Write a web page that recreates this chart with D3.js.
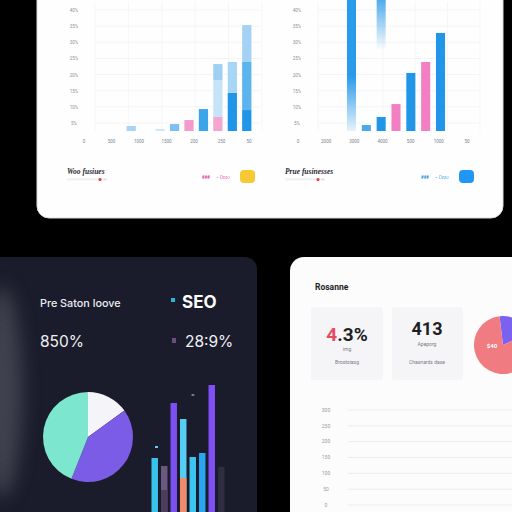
<!DOCTYPE html>
<html><head><meta charset="utf-8">
<script src="https://cdn.jsdelivr.net/npm/d3@7"></script>
<style>html,body{margin:0;padding:0;background:#000;}svg{display:block}</style>
</head><body>
<script>
// ---------- DATA ----------
// top-left chart (stacked bars, 9 slots)
const tlSlots = ["s0","s1","s2","s3","s4","s5","s6","s7","s8"];
const tlBase  = [31, 0, 12, 43, 68, 136, 87, 236, 130];
const tlMid   = [0, 0, 0, 0, 0, 0, 229, 192, 298];
const tlTop   = [0, 0, 0, 0, 0, 0, 99, 0, 229];
const tlXLabels = ["0","500","1000","1500","200","250","50"];
// top-right chart (7 slots)
const trSlots = ["r0","r1","r2","r3","r4","r5","r6"];
const trValues = [850, 37, 87, 167, 360, 428, 608];
const trGhostLow  = [0, 0, 500, 0, 0, 0, 0];
const trGhostHigh = [0, 0, 850, 0, 0, 0, 0];
const trXLabels = ["0","2000","3000","4000","500","1000","50"];
// shared y ticks of the top charts
const topYTicks = [50,150,250,350,450,550,650,750];
const topYLabels = ["5%","10%","15%","20%","25%","30%","35%","40%"];
// dark card
const darkPie = [15, 41, 44];           // white, purple, teal
const seoSlots = ["b0","b1","b2","b3","b4","b5","b6","b7"];
const seoValues = [54, 46, 109, 93, 55, 59, 127, 45];
const seoLower  = [0, 22, 0, 34, 0, 0, 0, 0];
// white card
const rightPie = [20, 80];
const lineTicks = [300,250,200,150,100,50,0];
const lineLabels = ["300","250","200","150","100","50","0"];

// ---------- STYLES ----------
const tlBaseCol = ["#a9d3f4","#ffffff","#cfe6f9","#7cbff0","#f59bcb","#3ba4ea","#f5a6d0","#2196e8","#2196e8"];
const tlMidCol  = ["#fff","#fff","#fff","#fff","#fff","#fff","#c6e3f8","#a7d5f6","#5db3ee"];
const tlTopCol  = ["#fff","#fff","#fff","#fff","#fff","#fff","#9fcff3","#fff","#a3d2f5"];
const trCol = ["url(#fadeDown)","#4aa8ec","#2196e8","#f27fc2","#2196e8","#f27fc2","#2196e8"];
const seoCol = ["#38c3ee","#6a5a82","#7b4ff0","#56cdf2","#3cc5f0","#2aa5ef","#8050f5","#2e2d42"];
const seoLowCol = ["#000","#4a3e5c","#000","#f28b6b","#000","#000","#000","#000"];

const W = 512, H = 512;
const svg = d3.select("body").append("svg").attr("width",W).attr("height",H);
const defs = svg.append("defs");
const g1 = defs.append("linearGradient").attr("id","fadeDown").attr("x1",0).attr("x2",0).attr("y1",0).attr("y2",1);
g1.append("stop").attr("offset","0%").attr("stop-color","#2a9be9");
g1.append("stop").attr("offset","60%").attr("stop-color","#2a9be9");
g1.append("stop").attr("offset","100%").attr("stop-color","#e6f2fc");
const g2 = defs.append("linearGradient").attr("id","ghost").attr("x1",0).attr("x2",0).attr("y1",0).attr("y2",1);
g2.append("stop").attr("offset","0%").attr("stop-color","#3aa3ea");
g2.append("stop").attr("offset","100%").attr("stop-color","#3aa3ea").attr("stop-opacity",0);
defs.append("filter").attr("id","blur").attr("x","-100%").attr("y","-50%").attr("width","300%").attr("height","200%")
  .append("feGaussianBlur").attr("stdDeviation",9);

svg.append("rect").attr("width",W).attr("height",H).attr("fill","#000");

// ---------- TOP CARD ----------
svg.append("rect").attr("x",37).attr("y",-20).attr("width",466).attr("height",238).attr("rx",12)
  .attr("fill","#fefefe").attr("stroke","#dcdcdc");

const yTop = d3.scaleLinear().domain([0,800]).range([131,2]);

function gridBlock(x0, x1, labelX){
  const g = svg.append("g");
  g.selectAll("line.h").data(topYTicks).join("line")
    .attr("x1",x0).attr("x2",x1).attr("y1",d=>yTop(d)).attr("y2",d=>yTop(d))
    .attr("stroke","#f3f4f6");
  const vx = d3.range(6).map(i=>x0 + (x1-x0)*i/5);
  g.selectAll("line.v").data(vx).join("line")
    .attr("x1",d=>d).attr("x2",d=>d).attr("y1",yTop(800)).attr("y2",yTop(0))
    .attr("stroke","#f5f6f8");
  g.selectAll("text").data(topYTicks).join("text")
    .attr("x",labelX).attr("y",d=>yTop(d)+2).attr("text-anchor","middle")
    .attr("font-family","Roboto").attr("font-size",4.5).attr("fill","#8a8f99")
    .text((d,i)=>topYLabels[i]);
}
gridBlock(95, 262, 74);
gridBlock(318, 480, 297);

// top-left bars
const xTL = d3.scaleBand().domain(tlSlots).range([124,254]).paddingInner(0.36).paddingOuter(0.18);
const tl = svg.append("g");
tlSlots.forEach((s,i)=>{
  let acc = 0;
  [[tlBase,tlBaseCol],[tlMid,tlMidCol],[tlTop,tlTopCol]].forEach(([arr,col])=>{
    const v = arr[i];
    if(v>0){
      tl.append("rect").attr("x",xTL(s)).attr("width",xTL.bandwidth())
        .attr("y",yTop(acc+v)).attr("height",yTop(acc)-yTop(acc+v)).attr("fill",col[i]);
      acc += v;
    }
  });
});
const xTLlab = d3.scalePoint().domain(tlXLabels).range([84,249]);
svg.append("g").selectAll("text").data(tlXLabels).join("text")
  .attr("x",d=>xTLlab(d)).attr("y",142.5).attr("text-anchor","middle")
  .attr("font-family","Roboto").attr("font-size",4.5).attr("fill","#7d828c").text(d=>d);

// top-right bars
const xTR = d3.scaleBand().domain(trSlots).range([344,448]).paddingInner(0.39).paddingOuter(0.2);
const tr = svg.append("g");
tr.selectAll("rect.b").data(trValues).join("rect")
  .attr("x",(d,i)=>xTR(trSlots[i])).attr("width",xTR.bandwidth())
  .attr("y",d=>yTop(d)).attr("height",d=>yTop(0)-yTop(d)).attr("fill",(d,i)=>trCol[i]);
tr.selectAll("rect.g").data(trGhostHigh).join("rect")
  .attr("x",(d,i)=>xTR(trSlots[i])).attr("width",xTR.bandwidth())
  .attr("y",d=>yTop(d)).attr("height",(d,i)=>yTop(trGhostLow[i])-yTop(d)).attr("fill","url(#ghost)");
const xTRlab = d3.scalePoint().domain(trXLabels).range([298,467]);
svg.append("g").selectAll("text").data(trXLabels).join("text")
  .attr("x",d=>xTRlab(d)).attr("y",142.5).attr("text-anchor","middle")
  .attr("font-family","Roboto").attr("font-size",4.5).attr("fill","#7d828c").text(d=>d);

// legends
function legend(x, title, rx, col, txtCol){
  svg.append("text").attr("x",x).attr("y",174).attr("font-family","Liberation Serif")
    .attr("font-style","italic").attr("font-weight","bold").attr("font-size",7.5).attr("fill","#2a2a33").text(title);
  svg.append("rect").attr("x",x).attr("y",178).attr("width",40).attr("height",2.5).attr("fill","#f2f2f4");
  svg.append("circle").attr("cx",x+33).attr("cy",179.5).attr("r",1.6).attr("fill","#e04545");
  svg.append("circle").attr("cx",x+38).attr("cy",179.5).attr("r",0.8).attr("fill","#cccccc");
  svg.append("text").attr("x",rx).attr("y",179).attr("font-family","Roboto").attr("font-weight","bold")
    .attr("font-size",4.5).attr("fill",txtCol).text("###");
  svg.append("text").attr("x",rx+14).attr("y",179).attr("font-family","Roboto").attr("font-style","italic")
    .attr("font-size",4.5).attr("fill",txtCol).attr("opacity",0.75).text("– Dsso");
  svg.append("rect").attr("x",rx+38).attr("y",170).attr("width",15).attr("height",13).attr("rx",4).attr("fill",col);
}
legend(67, "Woo fusiues", 202, "#f7c934", "#e0409a");
legend(285, "Prue fusinesses", 421, "#2196f3", "#2a8fd8");

// ---------- DARK CARD ----------
svg.append("rect").attr("x",-12).attr("y",257).attr("width",269).attr("height",280).attr("rx",12).attr("fill","#1b1c2b");
svg.append("ellipse").attr("cx",2).attr("cy",392).attr("rx",20).attr("ry",105)
  .attr("fill","#5a5a68").attr("opacity",0.6).attr("filter","url(#blur)");
svg.append("text").attr("x",40).attr("y",307).attr("font-family","Inter").attr("font-weight",500)
  .attr("font-size",10.8).attr("fill","#ececf2").text("Pre Saton loove");
svg.append("rect").attr("x",171).attr("y",298).attr("width",4).attr("height",4).attr("fill","#2bb5d8");
svg.append("text").attr("x",182).attr("y",308).attr("font-family","Inter").attr("font-weight","bold")
  .attr("font-size",17).attr("fill","#ffffff").text("SEO");
svg.append("text").attr("x",40).attr("y",347).attr("font-family","Inter")
  .attr("font-size",15.5).attr("fill","#f0f0f4").text("850%");
svg.append("rect").attr("x",172).attr("y",338).attr("width",4).attr("height",5).attr("fill","#6b4f7a");
svg.append("text").attr("x",185).attr("y",347).attr("font-family","Inter")
  .attr("font-size",15.5).attr("fill","#f0f0f4").text("28:9%");

const pieGen = d3.pie().sort(null).startAngle(0).endAngle(2*Math.PI);
const arc1 = d3.arc().innerRadius(0).outerRadius(45);
svg.append("g").attr("transform","translate(88,437)").selectAll("path").data(pieGen(darkPie)).join("path")
  .attr("d",arc1).attr("fill",(d,i)=>["#f5f5f9","#7a5ce6","#7de6cf"][i]);

const xSeo = d3.scaleBand().domain(seoSlots).range([151.5,224.5]).paddingInner(0.32);
const ySeo = d3.scaleLinear().domain([0,130]).range([512,382]);
const seo = svg.append("g");
seo.selectAll("rect.a").data(seoValues).join("rect")
  .attr("x",(d,i)=>xSeo(seoSlots[i])).attr("width",xSeo.bandwidth())
  .attr("y",d=>ySeo(d)).attr("height",d=>ySeo(0)-ySeo(d)).attr("fill",(d,i)=>seoCol[i]);
seo.selectAll("rect.b").data(seoLower).join("rect")
  .attr("x",(d,i)=>xSeo(seoSlots[i])).attr("width",xSeo.bandwidth())
  .attr("y",d=>ySeo(d)).attr("height",d=>ySeo(0)-ySeo(d)).attr("fill",(d,i)=>seoLowCol[i]);
svg.append("rect").attr("x",155).attr("y",446).attr("width",3).attr("height",2).attr("fill","#5fcff5");
svg.append("text").attr("x",193).attr("y",397).attr("text-anchor","middle").attr("font-family","Roboto")
  .attr("font-size",6).attr("fill","#b8c0d0").text("≡");

// ---------- WHITE CARD ----------
svg.append("rect").attr("x",290).attr("y",257).attr("width",240).attr("height",280).attr("rx",14).attr("fill","#fcfcfd");
svg.append("text").attr("x",315).attr("y",290).attr("font-family","Roboto").attr("font-weight","bold")
  .attr("font-size",8.5).attr("fill","#1e1e24").text("Rosanne");
svg.append("rect").attr("x",311).attr("y",307).attr("width",72).attr("height",73).attr("rx",3).attr("fill","#f5f5f7");
svg.append("rect").attr("x",392).attr("y",307).attr("width",71).attr("height",73).attr("rx",3).attr("fill","#f5f5f7");
const k1 = svg.append("text").attr("x",347).attr("y",341).attr("text-anchor","middle").attr("font-family","Roboto")
  .attr("font-weight","bold").attr("font-size",19).attr("fill","#1e1e24");
k1.append("tspan").attr("fill","#e84a5f").text("4");
k1.append("tspan").text(".3%");
svg.append("text").attr("x",427).attr("y",335).attr("text-anchor","middle").attr("font-family","Roboto")
  .attr("font-weight","bold").attr("font-size",18).attr("fill","#1e1e24").text("413");
const sub = [[347,351,"img"],[347,364,"Brostoiasg"],[427,346,"Apeporg"],[427,364,"Chasnards dase"]];
svg.append("g").selectAll("text").data(sub).join("text")
  .attr("x",d=>d[0]).attr("y",d=>d[1]).attr("text-anchor","middle").attr("font-family","Roboto")
  .attr("font-size",5).attr("fill","#7a7a85").text(d=>d[2]);

const pie2 = d3.pie().sort(null).startAngle(-0.12).endAngle(2*Math.PI-0.12);
const arc2 = d3.arc().innerRadius(0).outerRadius(29);
svg.append("g").attr("transform","translate(503,345)").selectAll("path").data(pie2(rightPie)).join("path")
  .attr("d",arc2).attr("fill",(d,i)=>["#7b61f0","#f07b80"][i]);
svg.append("text").attr("x",492).attr("y",348).attr("text-anchor","middle").attr("font-family","Roboto")
  .attr("font-weight","bold").attr("font-size",6).attr("fill","#ffffff").text("$40");

const yLines = d3.scaleLinear().domain([0,300]).range([505,410]);
svg.append("g").selectAll("line").data(lineTicks).join("line")
  .attr("x1",348).attr("x2",512).attr("y1",d=>yLines(d)).attr("y2",d=>yLines(d)).attr("stroke","#ececf0");
svg.append("g").selectAll("text").data(lineTicks).join("text")
  .attr("x",326).attr("y",d=>yLines(d)+1.8).attr("text-anchor","middle").attr("font-family","Roboto")
  .attr("font-size",5).attr("fill","#9a9aa4").text((d,i)=>lineLabels[i]);
</script>
</body></html>
